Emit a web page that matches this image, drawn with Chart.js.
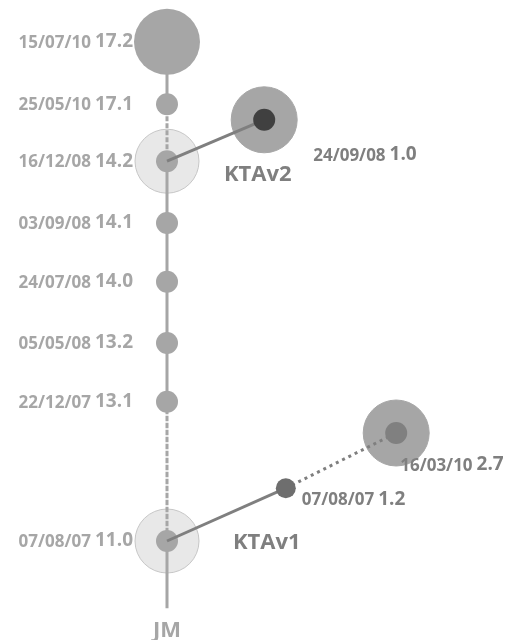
<!DOCTYPE html>
<html>
<head>
<meta charset="utf-8">
<script src="https://cdn.jsdelivr.net/npm/chart.js@4/dist/chart.umd.min.js"></script>
<style>
  html, body { margin: 0; padding: 0; background: #fff; }
  #wrap { width: 511px; height: 640px; }
</style>
</head>
<body>
<div id="wrap"><canvas id="arbol" width="511" height="640"></canvas></div>
<script>
// Rama principal (JM), de arriba a abajo
const versionesJM = ['17.2', '17.1', '14.2', '14.1', '14.0', '13.2', '13.1', '11.0'];
const fechasJM = ['15/07/10', '25/05/10', '16/12/08', '03/09/08', '24/07/08', '05/05/08', '22/12/07', '07/08/07'];
const tramosJM = ['solid', 'dotted', 'solid', 'solid', 'solid', 'solid', 'dotted', 'solid'];

// Ramas
const versionesKTAv1 = ['1.2', '2.7'];
const fechasKTAv1 = ['07/08/07', '16/03/10'];
const versionesKTAv2 = ['1.0'];
const fechasKTAv2 = ['24/09/08'];

// disposicion del arbol (filas / columnas)
const filasJM = [8.32, 7.28, 6.33, 5.3, 4.32, 3.3, 2.32, 0, -1.12];
const filasKTAv1 = [0.88, 1.8];
const colsKTAv1 = [1.98, 3.82];
const filasKTAv2 = [7.02];
const colsKTAv2 = [1.62];

const GRIS = '#a6a6a6';
const GRIS_OSC = '#7f7f7f';

const ptsJM = filasJM.map(f => ({ x: 0, y: f }));
const ptsKTAv1 = [{ x: 0, y: filasJM[7] }].concat(filasKTAv1.map((f, i) => ({ x: colsKTAv1[i], y: f })));
const ptsKTAv2 = [{ x: 0, y: filasJM[2] }].concat(filasKTAv2.map((f, i) => ({ x: colsKTAv2[i], y: f })));

const halos = {
  type: 'scatter',
  order: 10,
  data: [ptsJM[2], ptsJM[7], ptsKTAv1[2], ptsKTAv2[1]],
  pointRadius: [32, 32, 33, 33],
  pointBackgroundColor: ['#e8e8e8', '#e8e8e8', GRIS, GRIS],
  pointBorderColor: ['#c6c6c6', '#c6c6c6', GRIS, GRIS],
  pointBorderWidth: 1,
  clip: false
};

const jm = {
  type: 'line',
  order: 3,
  data: ptsJM,
  borderColor: GRIS,
  borderWidth: 3,
  pointRadius: [33, 11, 11, 11, 11, 11, 11, 11, 0],
  pointBackgroundColor: GRIS,
  pointBorderWidth: 0,
  segment: { borderDash: ctx => tramosJM[ctx.p0DataIndex] === 'dotted' ? [3, 4] : undefined },
  clip: false
};

const kta1 = {
  type: 'line',
  order: 2,
  data: ptsKTAv1,
  borderColor: GRIS_OSC,
  borderWidth: 3,
  pointRadius: [0, 10, 11],
  pointBackgroundColor: ['#7f7f7f', '#6e6e6e', '#808080'],
  pointBorderWidth: 0,
  segment: { borderDash: ctx => ctx.p0DataIndex === 1 ? [3, 4] : undefined },
  clip: false
};

const kta2 = {
  type: 'line',
  order: 1,
  data: ptsKTAv2,
  borderColor: GRIS_OSC,
  borderWidth: 3,
  pointRadius: [0, 11],
  pointBackgroundColor: '#404040',
  pointBorderWidth: 0,
  clip: false
};

const FUENTE = '"Open Sans", sans-serif';

function etiqueta(ctx, x, y, fecha, ver, color, alinear) {
  ctx.fillStyle = color;
  ctx.textBaseline = 'middle';
  ctx.textAlign = 'left';
  ctx.font = 'bold 19px ' + FUENTE;
  const wv = ctx.measureText(ver).width;
  ctx.font = 'bold 17px ' + FUENTE;
  const wf = ctx.measureText(fecha).width;
  const x0 = alinear === 'right' ? x - wv - wf - 4 : x;
  ctx.fillText(fecha, x0, y + 1);
  ctx.font = 'bold 19px ' + FUENTE;
  ctx.fillText(ver, x0 + wf + 4, y);
}

const textos = {
  id: 'textos',
  afterDatasetsDraw(chart) {
    const ctx = chart.ctx;
    const sx = chart.scales.x, sy = chart.scales.y;
    const px = p => sx.getPixelForValue(p.x);
    const py = p => sy.getPixelForValue(p.y);
    ctx.save();
    versionesJM.forEach((v, i) => {
      etiqueta(ctx, px(ptsJM[i]) - 34, py(ptsJM[i]), fechasJM[i], v, GRIS, 'right');
    });
    etiqueta(ctx, px(ptsKTAv1[1]) + 16, py(ptsKTAv1[1]) + 11, fechasKTAv1[0], versionesKTAv1[0], GRIS_OSC, 'left');
    etiqueta(ctx, px(ptsKTAv1[2]) + 4, py(ptsKTAv1[2]) + 32, fechasKTAv1[1], versionesKTAv1[1], GRIS_OSC, 'left');
    etiqueta(ctx, px(ptsKTAv2[1]) + 49, py(ptsKTAv2[1]) + 35, fechasKTAv2[0], versionesKTAv2[0], GRIS_OSC, 'left');

    ctx.font = 'bold 22px ' + FUENTE;
    ctx.fillStyle = GRIS_OSC;
    ctx.textAlign = 'left';
    ctx.textBaseline = 'middle';
    ctx.fillText('KTAv1', px(ptsJM[7]) + 66, py(ptsJM[7]) + 2);
    ctx.fillText('KTAv2', px(ptsJM[2]) + 57, py(ptsJM[2]) + 14);
    ctx.fillStyle = GRIS;
    ctx.textAlign = 'center';
    ctx.fillText('JM', px(ptsJM[8]), py(ptsJM[8]) + 23);
    ctx.restore();
  }
};

new Chart(document.getElementById('arbol'), {
  type: 'scatter',
  data: { datasets: [halos, jm, kta1, kta2] },
  options: {
    responsive: false,
    animation: false,
    events: [],
    layout: { padding: 0, autoPadding: false },
    plugins: { legend: { display: false }, tooltip: { enabled: false } },
    scales: {
      x: { type: 'linear', display: false, min: -167 / 60, max: 344 / 60 },
      y: { type: 'linear', display: false, min: -99 / 60, max: 541 / 60 }
    }
  },
  plugins: [textos]
});
</script>
</body>
</html>
